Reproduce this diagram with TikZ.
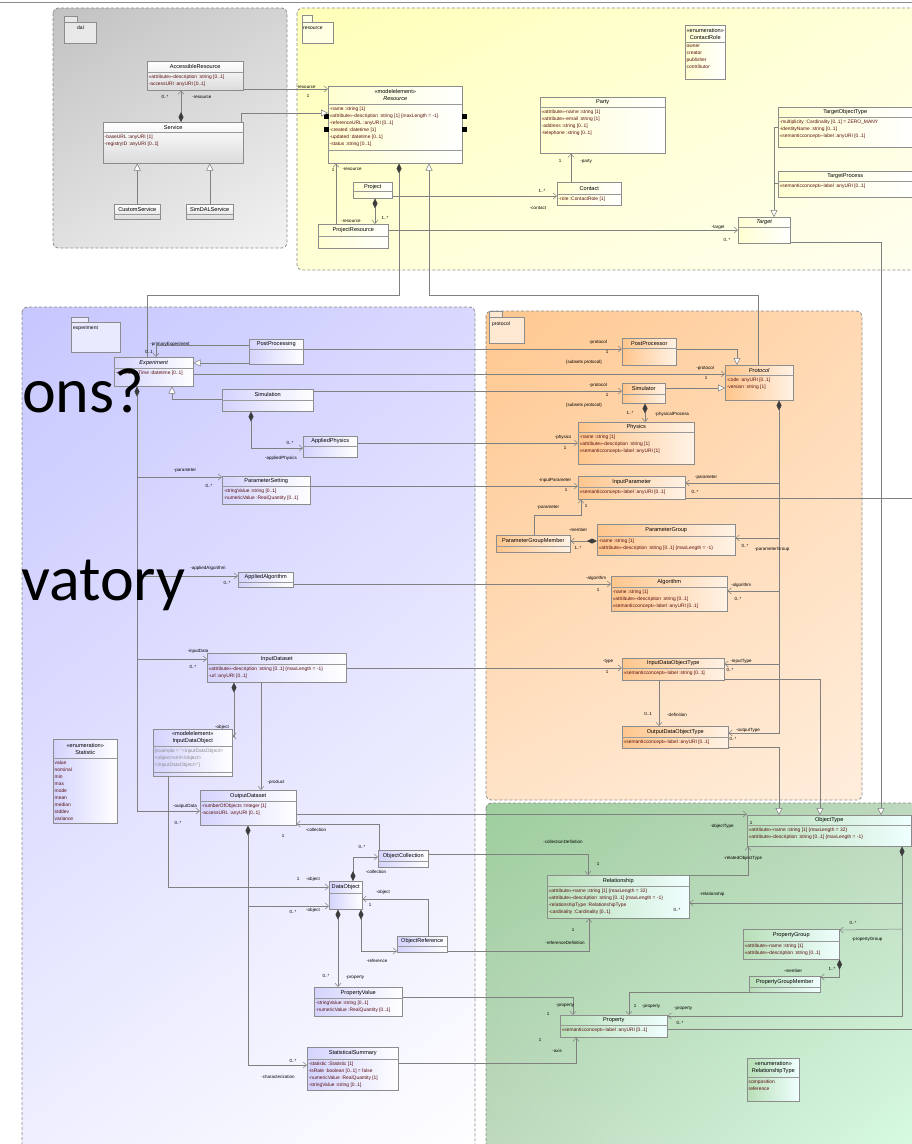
\documentclass[tikz,border=0pt]{standalone}
\usepackage{fontspec}
\setmainfont{Liberation Sans}
\newfontfamily\slidefont{Carlito}
\usetikzlibrary{arrows.meta,shadows,shadings}

\definecolor{linec}{HTML}{808080}
\definecolor{attrc}{HTML}{5A0F0F}
\definecolor{diamc}{HTML}{3C3C3C}
\definecolor{pkgline}{HTML}{8C8C8C}

% class box: [style]{name}{x,y of top left}{width}{height}{header height}{title}{attributes}
\newcommand{\umlclass}[8][clsexp]{%
  \node[#1, minimum width=#4pt, minimum height=#5pt, anchor=north west] (#2) at (#3) {};
  \draw[hdrline] ([yshift=-#6pt]#2.north west) -- ([yshift=-#6pt]#2.north east);
  \node[ctitle, minimum height=#6pt, anchor=north] (#2-t) at (#2.north) {#7};
  \node[cattr, anchor=north west] (#2-a) at ([yshift=-#6pt]#2.north west) {#8};
}

\begin{document}
\begin{tikzpicture}[x=1pt,y=-1pt,
  cls/.style={draw=black!45, line width=0.5pt, inner sep=0pt,
    drop shadow={shadow xshift=1pt,shadow yshift=-1pt,opacity=0.3}},
  clsdal/.style={cls, top color=white, bottom color=black!14},
  clsres/.style={cls, left color=white!82!yellow, right color=white},
  clsexp/.style={cls, left color=blue!17!white, right color=white},
  clsprot/.style={cls, left color=orange!45!white, right color=orange!10!white},
  clsobj/.style={cls, left color=green!55!black!28!white, right color=cyan!6!white},
  hdrline/.style={draw=black!40, line width=0.4pt},
  ctitle/.style={inner sep=0pt, align=center, font=\fontsize{5.6}{7.2}\selectfont},
  cattr/.style={inner xsep=1.5pt, inner ysep=2.4pt, align=left, text=attrc,
    font=\fontsize{4.9}{7}\selectfont},
  pkg/.style={draw=pkgline, dash pattern=on 3pt off 2pt, line width=0.8pt, rounded corners=5pt},
  pkgtab/.style={draw=black!45, line width=0.4pt, fill=white, fill opacity=0.6},
  pkglbl/.style={inner sep=0pt, anchor=west, font=\fontsize{5}{6}\selectfont},
  conn/.style={draw=linec, line width=0.5pt},
  assoc/.style={conn, -{Straight Barb[length=3.5pt,width=6pt]}},
  gen/.style={conn, -{Triangle[open,length=7pt,width=7pt,fill=white]}},
  comp/.style={conn, {Diamond[length=10pt,width=5pt,color=diamc,fill=diamc]}-{Straight Barb[length=3.5pt,width=6pt]}},
  compend/.style={conn, {Diamond[length=10pt,width=5pt,color=diamc,fill=diamc]}-},
  lbl/.style={inner sep=0pt, font=\fontsize{4.5}{5}\selectfont},
  bigtxt/.style={inner sep=0pt, font=\slidefont\fontsize{64}{68}\selectfont}
]
\useasboundingbox (0,0) rectangle (912,1144);
\clip (0,0) rectangle (912,1144);
\fill[white] (0,0) rectangle (912,1144);
\draw[black!45] (0,2) -- (912,2);	%top border

%packages
\shadedraw[pkg, upper left=black!24, upper right=black!17, lower left=black!12, lower right=black!5] (53,8) rectangle (287,248);
\shadedraw[pkg, upper left=yellow!28, upper right=yellow!14, lower left=yellow!16, lower right=yellow!6] (297,8) rectangle (935,270);
\shadedraw[pkg, upper left=blue!22, upper right=blue!15, lower left=blue!6, lower right=white] (22,307) rectangle (475,1165);
\shadedraw[pkg, upper left=orange!44, upper right=orange!30, lower left=orange!22, lower right=orange!14] (486,311) rectangle (862,800);
\shadedraw[pkg, upper left=green!50!black!38!white, upper right=green!40!black!25!white, lower left=green!40!black!25!white, lower right=cyan!30!green!15] (486,803) rectangle (935,1165);

%package tabs
\draw[pkgtab] (64,16) rectangle (77,22);
\draw[pkgtab] (64,22) rectangle (96,43);
\node[pkglbl] (pdal) at (77,28) {dal};
\draw[pkgtab] (302,15) rectangle (312,22);
\draw[pkgtab] (302,22) rectangle (333,43);
\node[pkglbl] (pres) at (303,28) {resource};
\draw[pkgtab] (71,317) rectangle (88,322);
\draw[pkgtab] (71,322) rectangle (120,352);
\node[pkglbl] (pexp) at (73,328) {experiment};
\draw[pkgtab] (489,311) rectangle (502,317);
\draw[pkgtab] (489,317) rectangle (524,343);
\node[pkglbl] (pprot) at (492,324) {protocol};

%dal classes
\umlclass[clsdal]{acc}{147,61}{96}{29}{11}{AccessibleResource}{«attribute»-description :string [0..1]\\-accessURI :anyURI [0..1]}
\umlclass[clsdal]{srv}{103,122}{140}{41}{10}{Service}{-baseURL :anyURI [1]\\-registryID :anyURI [0..1]}
\umlclass[clsdal]{csrv}{114,204}{46}{15}{10}{CustomService}{}
\umlclass[clsdal]{ssrv}{186,204}{47}{15}{10}{SimDALService}{}

%resource classes
\umlclass[clsres]{res}{328,86}{134}{77}{18}{«modelelement»\\\textit{Resource}}{-name :string [1]\\«attribute»-description :string [1] \{maxLength = -1\}\\-referenceURL :anyURI [0..1]\\-created :datetime [1]\\-updated :datetime [0..1]\\-status :string [0..1]}
\draw[hdrline] (res.west |- 0,150) -- (res.east |- 0,150);
\fill (324,114) rectangle (329,119);	%ports
\fill (324,127) rectangle (329,132);
\fill (462,114) rectangle (467,119);
\fill (462,127) rectangle (467,132);
\umlclass[clsres]{party}{540,97}{125}{56}{10}{Party}{«attribute»-name :string [1]\\«attribute»-email :string [1]\\-address :string [0..1]\\-telephone :string [0..1]}
\umlclass[clsres]{contact}{557,182}{64}{23}{12}{Contact}{-role :ContactRole [1]}
\umlclass[clsres]{proj}{353,182}{39}{16}{9}{Project}{}
\umlclass[clsres]{pres}{318,224}{70}{24}{12}{ProjectResource}{}
\umlclass[clsres]{crole}{685,25}{40}{54}{17}{«enumeration»\\ContactRole}{owner\\creator\\publisher\\contributor}
\umlclass[clsres]{tot}{778,107}{134}{40}{10}{TargetObjectType}{-multiplicity :Cardinality [0..1] = ZERO\_MANY\\-identityName :string [0..1]\\«semanticconcept»-label :anyURI [0..1]}
\umlclass[clsres]{tproc}{778,171}{134}{26}{10}{TargetProcess}{«semanticconcept»-label :anyURI [0..1]}
\umlclass[clsres]{tgt}{738,217}{52}{26}{10}{\textit{Target}}{}

%experiment classes
\umlclass{exp}{114,357}{79}{29}{11}{\textit{Experiment}}{-executionTime :datetime [0..1]}
\umlclass{pp}{249,339}{54}{25}{10}{PostProcessing}{}
\umlclass{sim}{222,389}{91}{22}{11}{Simulation}{}
\umlclass{aphys}{303,436}{54}{21}{10}{AppliedPhysics}{}
\umlclass{pset}{222,476}{88}{28}{10}{ParameterSetting}{-stringValue :string [0..1]\\-numericValue :RealQuantity [0..1]}
\umlclass{aalg}{238,572}{55}{15}{10}{AppliedAlgorithm}{}
\umlclass{inds}{207,653}{139}{29}{11}{InputDataset}{«attribute»-description :string [0..1] \{maxLength = -1\}\\-url :anyURI [0..1]}
\umlclass{indo}{153,729}{79}{47}{17}{«modelelement»\\InputDataObject}{\textcolor{black!45}{\{example = "<inputDataObject>}\\\textcolor{black!45}{<object>xml</object>}\\\textcolor{black!45}{</inputDataObject>"\}}}
\draw[hdrline] (indo.west |- 0,772) -- (indo.east |- 0,772);
\umlclass{outds}{200,790}{96}{35}{11}{OutputDataset}{-numberOfObjects :Integer [1]\\-accessURL :anyURI [0..1]}
\umlclass{ocoll}{378,850}{50}{17}{11}{ObjectCollection}{}
\umlclass{dobj}{329,881}{33}{28}{12}{DataObject}{}
\umlclass{oref}{397,936}{50}{16}{10}{ObjectReference}{}
\umlclass{pval}{314,987}{88}{29}{11}{PropertyValue}{-stringValue :string [0..1]\\-numericValue :RealQuantity [0..1]}
\umlclass{stsum}{307,1047}{91}{43}{12}{StatisticalSummary}{-statistic :Statistic [1]\\-isRate :boolean [0..1] = false\\-numericValue :RealQuantity [1]\\-stringValue :string [0..1]}
\umlclass{stat}{53,739}{64}{84}{19}{«enumeration»\\Statistic}{value\\nominal\\min\\max\\mode\\mean\\median\\stddev\\variance}

%protocol classes
\umlclass[clsprot]{ppr}{622,338}{54}{27}{10}{PostProcessor}{}
\umlclass[clsprot]{prot}{725,365}{68}{35}{10}{\textit{Protocol}}{-code :anyURI [0..1]\\-version :string [1]}
\umlclass[clsprot]{simr}{622,383}{43}{20}{11}{Simulator}{}
\umlclass[clsprot]{phys}{578,422}{116}{42}{10}{Physics}{-name :string [1]\\«attribute»-description :string [1]\\«semanticconcept»-label :anyURI [1]}
\umlclass[clsprot]{ipar}{578,476}{107}{23}{11}{InputParameter}{«semanticconcept»-label :anyURI [0..1]}
\umlclass[clsprot]{pgrp}{597,524}{138}{31}{12}{ParameterGroup}{-name :string [1]\\«attribute»-description :string [0..1] \{maxLength = -1\}}
\umlclass[clsprot]{pgm}{496,535}{74}{17}{11}{ParameterGroupMember}{}
\umlclass[clsprot]{alg}{611,576}{116}{35}{11}{Algorithm}{-name :string [1]\\«attribute»-description :string [0..1]\\«semanticconcept»-label :anyURI [0..1]}
\umlclass[clsprot]{idot}{622,658}{102}{22}{10}{InputDataObjectType}{«semanticconcept»-label :string [0..1]}
\umlclass[clsprot]{odot}{622,726}{106}{22}{11}{OutputDataObjectType}{«semanticconcept»-label :anyURI [0..1]}

%objecttype classes
\umlclass[clsobj]{otype}{747,815}{164}{31}{10}{ObjectType}{«attribute»-name :string [1] \{maxLength = 32\}\\«attribute»-description :string [0..1] \{maxLength = -1\}}
\umlclass[clsobj]{rel}{547,875}{142}{43}{11}{Relationship}{«attribute»-name :string [1] \{maxLength = 32\}\\«attribute»-description :string [0..1] \{maxLength = -1\}\\-relationshipType :RelationshipType\\-cardinality :Cardinality [0..1]}
\umlclass[clsobj]{pgroup}{743,929}{96}{30}{12}{PropertyGroup}{«attribute»-name :string [1]\\«attribute»-description :string [0..1]}
\umlclass[clsobj]{pgmem}{749,976}{71}{16}{11}{PropertyGroupMember}{}
\umlclass[clsobj]{prop}{560,1015}{107}{22}{10}{Property}{«semanticconcept»-label :anyURI [0..1]}
\umlclass[clsobj]{rtype}{747,1058}{52}{43}{19}{«enumeration»\\RelationshipType}{composition\\reference}

%connectors in dal
\draw[comp] (srv.north -| 181,0) -- (acc.south -| 181,0);
\node[lbl] (m1) at (165,97) {0..*};
\node[lbl] (r1) at (202,97) {-resource};
\draw[gen] (csrv.north) -- (csrv.north |- srv.south);
\draw[gen] (ssrv.north) -- (ssrv.north |- srv.south);
\draw[assoc] (acc.east |- 0,89) -- (res.west |- 0,89);
\node[lbl] (r2) at (306,87) {-resource};
\node[lbl] (m2) at (308,96) {1};
\draw[gen] (srv.north -| 241,0) |- (res.west |- 0,113);

%connectors in resource
\draw[assoc] (pres.north -| 336,0) -- (res.south -| 336,0);
\node[lbl] (m3) at (333,170) {1};
\node[lbl] (r3) at (352,169) {-resource};
\draw[comp] (proj.south -| 375,0) -- (pres.north -| 375,0);
\node[lbl] (r4) at (351,221) {-resource};
\node[lbl] (m4) at (385,218) {1..*};
\draw[assoc] (proj.east |- 0,196) -- (contact.west |- 0,196);
\node[lbl] (m5) at (542,191) {1..*};
\node[lbl] (r5) at (538,208) {-contact};
\draw[assoc] (contact.north -| 571,0) -- (party.south -| 571,0);
\node[lbl] (m6) at (560,161) {1};
\node[lbl] (r6) at (586,162) {-party};
\draw[compend] (res.south -| 399,0) -- (399,295) -| (exp.north -| 147,0);
\draw[assoc] (pres.east |- 0,230) -- (tgt.west |- 0,230);
\node[lbl] (r7) at (718,228) {-target};
\node[lbl] (m7) at (727,240) {0..*};
\draw[gen] (prot.north -| 758,0) -- (758,295) -| (res.south -| 429,0);
\draw[gen] (tot.west |- 0,127) -| (tgt.north -| 774,0);
\draw[conn] (tproc.west |- 0,183) -- ++(-4,0);
\draw[gen] (tgt.east |- 0,242) -| (otype.north -| 881,0);

%connectors in experiment
\draw[assoc] (pp.west |- 0,345) -| (exp.north -| 156,0);
\node[lbl] (r8) at (170,344) {-primaryExperiment};
\node[lbl] (m8) at (149,352) {0..1};
\draw[gen] (pp.west |- 0,363) -- (exp.east |- 0,363);
\draw[assoc] (exp.east |- 0,374) -- (prot.west |- 0,374);
\node[lbl] (r9) at (705,368) {-protocol};
\node[lbl] (m9) at (706,378) {1};
\draw[assoc] (pp.east |- 0,349) -- (ppr.west |- 0,349);
\node[lbl] (r10) at (598,342) {-protocol};
\node[lbl] (m10) at (607,352) {1};
\node[lbl] (s10) at (584,362) {\{subsets protocol\}};
\draw[assoc] (sim.east |- 0,391) -- (simr.west |- 0,391);
\node[lbl] (r11) at (598,385) {-protocol};
\node[lbl] (m11) at (607,395) {1};
\node[lbl] (s11) at (584,405) {\{subsets protocol\}};
\draw[gen] (ppr.east |- 0,349) -| (prot.north -| 737,0);
\draw[gen] (simr.east |- 0,388) -- (prot.west |- 0,388);
\draw[comp] (simr.south -| 645,0) -- (phys.north -| 645,0);
\node[lbl] (m12) at (630,413) {1..*};
\node[lbl] (r12) at (672,414) {-physicalProcess};
\draw[gen] (sim.west |- 0,399) -| (exp.south -| 172,0);
\draw[comp] (sim.south -| 251,0) |- (aphys.west |- 0,448);
\node[lbl] (m13) at (290,443) {0..*};
\node[lbl] (r13) at (281,458) {-appliedPhysics};
\draw[assoc] (aphys.east |- 0,443) -- (phys.west |- 0,443);
\node[lbl] (r14) at (563,437) {-physics};
\node[lbl] (m14) at (565,448) {1};

%experiment trunk
\draw[comp] (exp.south -| 137,0) |- (outds.west |- 0,811);
\coordinate (jpar) at (137,477);
\coordinate (jalg) at (137,576);
\coordinate (jin) at (137,659);
\draw[assoc] (jpar) -- (pset.west |- 0,477);
\draw[assoc] (jalg) -- (aalg.west |- 0,576);
\draw[assoc] (jin) -- (inds.west |- 0,659);
\node[lbl] (r15) at (185,471) {-parameter};
\node[lbl] (m15) at (209,486) {0..*};
\node[lbl] (r16) at (208,568) {-appliedAlgorithm};
\node[lbl] (m16) at (227,583) {0..*};
\node[lbl] (r17) at (198,651) {-inputData};
\node[lbl] (m17) at (193,667) {0..*};
\node[lbl] (r18) at (185,806) {-outputData};
\node[lbl] (m18) at (178,823) {0..*};
\draw[assoc] (pset.east |- 0,486) -- (ipar.west |- 0,486);
\node[lbl] (r19) at (555,480) {-inputParameter};
\node[lbl] (m19) at (566,490) {1};

%protocol trunk
\draw[comp] (prot.south -| 779,0) |- (odot.east |- 0,733);
\coordinate (jipar) at (779,483);
\coordinate (jpgrp) at (779,538);
\coordinate (jalgo) at (779,591);
\coordinate (jidot) at (779,664);
\draw[assoc] (jipar) -- (ipar.east |- 0,483);
\draw[assoc] (jpgrp) -- (pgrp.east |- 0,538);
\draw[assoc] (jalgo) -- (alg.east |- 0,591);
\draw[assoc] (jidot) -- (idot.east |- 0,664);
\node[lbl] (r20) at (706,478) {-parameter};
\node[lbl] (m20) at (695,492) {0..*};
\node[lbl] (m21) at (745,546) {0..*};
\node[lbl] (r21) at (772,549) {-parameterGroup};
\node[lbl] (r22) at (741,585) {-algorithm};
\node[lbl] (m22) at (738,599) {0..*};
\node[lbl] (r23) at (741,661) {-inputType};
\node[lbl] (m23) at (730,670) {0..*};
\node[lbl] (r24) at (748,730) {-outputType};
\node[lbl] (m24) at (733,739) {0..*};
\coordinate (offa) at (912,498);
\draw[conn] (ipar.east |- 0,498) -- (offa);

\draw[comp] (pgrp.west |- 0,541) -- (pgm.east |- 0,541);
\node[lbl] (r25) at (578,530) {-member};
\node[lbl] (m25) at (578,548) {1..*};
\draw[assoc] (pgm.north -| 534,0) |- (581,515) -- (ipar.south -| 581,0);
\node[lbl] (r26) at (548,508) {-parameter};
\node[lbl] (m26) at (586,506) {1};
\draw[assoc] (aalg.east |- 0,584) -- (alg.west |- 0,584);
\node[lbl] (r27) at (596,578) {-algorithm};
\node[lbl] (m27) at (598,590) {1};
\draw[assoc] (inds.east |- 0,668) -- (idot.west |- 0,668);
\node[lbl] (r28) at (608,662) {-type};
\node[lbl] (m28) at (607,672) {1};
\draw[gen] (idot.east |- 0,679) -| (otype.north -| 820,0);
\draw[assoc] (idot.south -| 659,0) -- (odot.north -| 659,0);
\node[lbl] (m29) at (648,714) {0..1};
\node[lbl] (r29) at (677,715) {-definition};
\draw[gen] (odot.east |- 0,747) -| (otype.north -| 779,0);

%data objects
\draw[comp] (inds.south -| 234,0) |- (indo.east |- 0,736);
\node[lbl] (r30) at (222,727) {-object};
\draw[assoc] (inds.south -| 261,0) -- (outds.north -| 261,0);
\node[lbl] (r31) at (276,782) {-product};
\draw[assoc] (indo.south -| 168,0) |- (dobj.west |- 0,887);
\node[lbl] (m32) at (298,879) {1};
\node[lbl] (r32) at (313,879) {-object};
\draw[comp] (outds.south -| 248,0) |- (stsum.west |- 0,1065);
\coordinate (jobj) at (248,906);
\draw[assoc] (jobj) -- (dobj.west |- 0,906);
\node[lbl] (m33) at (293,1061) {0..*};
\node[lbl] (r33) at (278,1077) {-characterization};
\node[lbl] (m34) at (293,912) {0..*};
\node[lbl] (r34) at (313,910) {-object};
\draw[assoc] (outds.east |- 0,814) -- (otype.west |- 0,814);
\node[lbl] (r35) at (722,826) {-objectType};
\node[lbl] (m35) at (751,823) {1};
\draw[assoc] (ocoll.north -| 379,0) |- (outds.east |- 0,824);
\node[lbl] (r36) at (316,830) {-collection};
\node[lbl] (m36) at (283,836) {1};
\draw[comp] (dobj.north -| 353,0) |- (ocoll.west |- 0,857);
\node[lbl] (m37) at (362,847) {0..*};
\node[lbl] (r37) at (376,872) {-collection};
\draw[assoc] (ocoll.east |- 0,854) -| (rel.north -| 588,0);
\node[lbl] (r38) at (563,842) {-collectionDefinition};
\node[lbl] (m38) at (598,864) {1};
\draw[assoc] (rel.north east) -| (otype.south -| 748,0);
\node[lbl] (r39) at (743,858) {-relatedObjectType};

%objecttype trunk
\draw[comp] (otype.south -| 902,0) |- (prop.east |- 0,1016);
\coordinate (jrel) at (902,903);
\coordinate (jpg) at (902,929);
\draw[assoc] (jrel) -- (rel.east |- 0,903);
\draw[assoc] (jpg) -- (pgroup.east |- 0,930);
\node[lbl] (r40) at (712,894) {-relationship};
\node[lbl] (m40) at (677,910) {0..*};
\node[lbl] (m41) at (853,923) {0..*};
\node[lbl] (r41) at (867,939) {-propertyGroup};
\node[lbl] (r42) at (683,1008) {-property};
\node[lbl] (m42) at (680,1023) {0..*};

\draw[comp] (dobj.south -| 361,0) |- (oref.west |- 0,951);
\node[lbl] (r43) at (377,961) {-reference};
\draw[assoc] (oref.north -| 428,0) |- (dobj.east |- 0,899);
\node[lbl] (r44) at (383,892) {-object};
\node[lbl] (m44) at (370,905) {1};
\draw[assoc] (oref.east |- 0,951) -| (rel.south -| 589,0);
\node[lbl] (r45) at (565,943) {-referenceDefinition};
\node[lbl] (m45) at (573,930) {1};
\draw[comp] (dobj.south -| 338,0) -- (pval.north -| 338,0);
\node[lbl] (m46) at (326,976) {0..*};
\node[lbl] (r46) at (355,977) {-property};
\draw[assoc] (pval.east |- 0,997) -| (prop.north -| 573,0);
\node[lbl] (r47) at (565,1005) {-property};
\node[lbl] (m47) at (548,1014) {1};
\draw[assoc] (stsum.east |- 0,1063) -| (prop.south -| 576,0);
\node[lbl] (r48) at (557,1051) {-axis};
\node[lbl] (m48) at (540,1040) {1};
\draw[comp] (pgroup.south east) |- (pgmem.east |- 0,977);
\node[lbl] (r49) at (793,971) {-member};
\node[lbl] (m49) at (832,969) {1..*};
\draw[assoc] (pgmem.south -| 752,0) -| (prop.north -| 629,0);
\node[lbl] (m50) at (635,1006) {1};
\node[lbl] (r50) at (651,1006) {-property};
\coordinate (offb) at (912,1029);
\draw[conn] (prop.east |- 0,1029) -- (offb);

%slide text behind
\node[bigtxt, anchor=base west] (t1) at (22,412) {ons?};
\node[bigtxt, anchor=base west] (t2) at (21,600) {vatory};
\end{tikzpicture}
\end{document}
